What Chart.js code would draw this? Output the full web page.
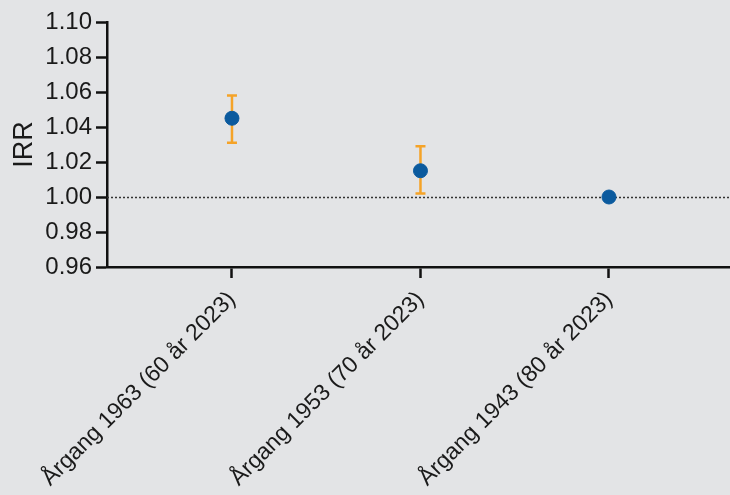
<!DOCTYPE html>
<html>
<head>
<meta charset="utf-8">
<script src="https://cdn.jsdelivr.net/npm/chart.js@4"></script>
<style>
  html, body { margin: 0; padding: 0; background: #e3e4e6; }
  #wrap { width: 730px; height: 495px; }
</style>
</head>
<body>
<div id="wrap"><canvas id="c" width="730" height="495"></canvas></div>
<script>
// ---- data ----
const categories = ["Årgang 1963 (60 år 2023)", "Årgang 1953 (70 år 2023)", "Årgang 1943 (80 år 2023)"];
const irr = [1.045, 1.015, 1.000];
const ciLower = [1.031, 1.002, null];
const ciUpper = [1.058, 1.029, null];
const yTicks = [0.96, 0.98, 1.00, 1.02, 1.04, 1.06, 1.08, 1.10];
const referenceValue = 1.00;
const yTitle = "IRR";

const FONT = "'Liberation Sans', Arial, Helvetica, sans-serif";

const errorBars = {
  id: 'errorBars',
  beforeDatasetsDraw(chart) {
    const ctx = chart.ctx, xs = chart.scales.x, ys = chart.scales.y, a = chart.chartArea;
    ctx.save();
    ctx.strokeStyle = '#333';
    ctx.lineWidth = 1.5;
    ctx.setLineDash([2, 2]);
    const yr = Math.round(ys.getPixelForValue(referenceValue)) + 0.5;
    ctx.beginPath();
    ctx.moveTo(a.left, yr);
    ctx.lineTo(a.right, yr);
    ctx.stroke();
    ctx.restore();
    ctx.save();
    ctx.strokeStyle = '#f5a328';
    ctx.lineWidth = 2.5;
    const cap = 5;
    irr.forEach((v, i) => {
      if (ciLower[i] == null || ciUpper[i] == null) return;
      const x = xs.getPixelForValue(i + 1);
      const y1 = ys.getPixelForValue(ciLower[i]);
      const y2 = ys.getPixelForValue(ciUpper[i]);
      ctx.beginPath();
      ctx.moveTo(x, y1); ctx.lineTo(x, y2);
      ctx.moveTo(x - cap, y1); ctx.lineTo(x + cap, y1);
      ctx.moveTo(x - cap, y2); ctx.lineTo(x + cap, y2);
      ctx.stroke();
    });
    ctx.restore();
  }
};

new Chart(document.getElementById('c'), {
  type: 'scatter',
  data: {
    datasets: [{
      data: irr.map((v, i) => ({ x: i + 1, y: v })),
      backgroundColor: '#0b5a9e',
      borderColor: '#0b5a9e',
      pointRadius: 7,
      pointHoverRadius: 7,
      showLine: false,
      clip: false
    }]
  },
  options: {
    responsive: false,
    animation: false,
    events: [],
    layout: { autoPadding: false, padding: { top: 22, right: 0, left: 0, bottom: 0 } },
    plugins: { legend: { display: false }, tooltip: { enabled: false } },
    scales: {
      x: {
        type: 'linear',
        min: 0.337,
        max: 3.642,
        afterBuildTicks: s => { s.ticks = categories.map((c, i) => ({ value: i + 1 })); },
        afterFit: s => { s.height = 228; s.paddingLeft = 0; s.paddingRight = 0; },
        border: { display: true, color: '#111', width: 2.5 },
        grid: { display: true, drawOnChartArea: false, drawTicks: true, tickLength: 11, tickWidth: 2.5, tickColor: '#111', color: '#111' },
        ticks: {
          autoSkip: false,
          minRotation: 45,
          maxRotation: 45,
          padding: 8,
          color: '#1a1a1a',
          font: { family: FONT, size: 23 },
          callback: v => categories[v - 1] ?? ''
        }
      },
      y: {
        min: 0.96,
        max: 1.10,
        afterBuildTicks: s => { s.ticks = yTicks.map(v => ({ value: v })); },
        afterFit: s => { s.width = 107; },
        border: { display: true, color: '#111', width: 2.5 },
        grid: { display: true, drawOnChartArea: false, drawTicks: true, tickLength: 11, tickWidth: 2.5, tickColor: '#111', color: '#111' },
        ticks: {
          padding: 4,
          color: '#1a1a1a',
          font: { family: FONT, size: 24 },
          callback: v => v.toFixed(2)
        },
        title: {
          display: true,
          text: yTitle,
          color: '#1a1a1a',
          font: { family: FONT, size: 27 },
          padding: { top: 8, bottom: 0 }
        }
      }
    }
  },
  plugins: [errorBars]
});
</script>
</body>
</html>
